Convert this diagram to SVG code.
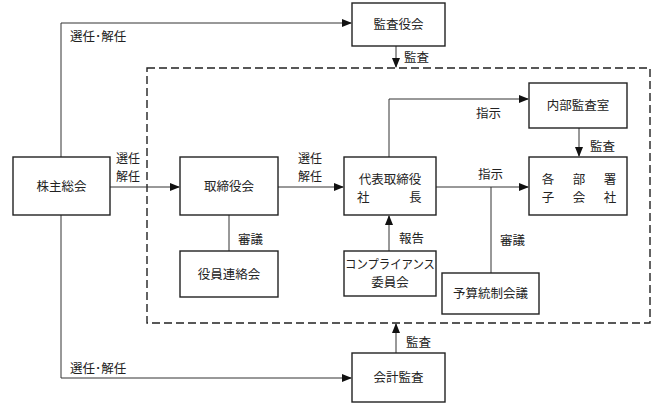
<svg xmlns="http://www.w3.org/2000/svg" width="660" height="410" viewBox="0 0 660 410">
<defs>
<marker id="ah" markerWidth="10" markerHeight="8" refX="9" refY="4" orient="auto" markerUnits="userSpaceOnUse">
<path d="M0,0 L10,4 L0,8 Z" fill="#111"/>
</marker>
<style>
.box{fill:#fff;stroke:#222;stroke-width:1.4}
.ln{fill:none;stroke:#333;stroke-width:1}
.dash{fill:none;stroke:#222;stroke-width:1.4;stroke-dasharray:8 4}
text{font-family:"Noto Sans CJK JP","Noto Sans CJK SC",sans-serif;font-size:12.5px;fill:#222}
.c{text-anchor:middle}
.s{font-size:12px}
</style>
</defs>
<rect width="660" height="410" fill="#fff"/>
<rect class="dash" x="147" y="68" width="503" height="255"/>
<g id="connectors">
<path class="ln" d="M61,157 V23 H351" marker-end="url(#ah)"/>
<path class="ln" d="M61,215 V378 H351" marker-end="url(#ah)"/>
<path class="ln" d="M396,46 V67" marker-end="url(#ah)"/>
<path class="ln" d="M396,353 V324" marker-end="url(#ah)"/>
<path class="ln" d="M110,187 H179" marker-end="url(#ah)"/>
<path class="ln" d="M278,187 H343" marker-end="url(#ah)"/>
<path class="ln" d="M229,215 V251"/>
<path class="ln" d="M389,157 V99 H528" marker-end="url(#ah)"/>
<path class="ln" d="M579,128 V156" marker-end="url(#ah)"/>
<path class="ln" d="M436,187 H528" marker-end="url(#ah)"/>
<path class="ln" d="M491,187 V273"/>
<path class="ln" d="M389,251 V216" marker-end="url(#ah)"/>
<text x="70" y="41">選任･解任</text>
<text x="70" y="373">選任･解任</text>
<text x="404" y="62">監査</text>
<text x="406" y="347">監査</text>
<text class="s" x="116" y="163">選任</text>
<text class="s" x="116" y="181">解任</text>
<text class="s" x="298" y="163">選任</text>
<text class="s" x="298" y="181">解任</text>
<text x="238" y="244">審議</text>
<text x="476" y="118">指示</text>
<text x="590" y="151">監査</text>
<text x="478" y="179">指示</text>
<text x="500" y="245">審議</text>
<text x="399" y="243">報告</text>
</g>
<g id="kansayakukai"><rect class="box" x="352" y="3" width="93" height="43"/><text class="c" x="398.5" y="29">監査役会</text></g>
<g id="kabunushi"><rect class="box" x="13" y="157" width="97" height="58"/><text class="c" x="61.5" y="191">株主総会</text></g>
<g id="torishimariyakukai"><rect class="box" x="180" y="157" width="98" height="58"/><text class="c" x="229" y="191">取締役会</text></g>
<g id="yakuin"><rect class="box" x="180" y="251" width="98" height="46"/><text class="c" x="229" y="279">役員連絡会</text></g>
<g id="daihyo"><rect class="box" x="344" y="157" width="92" height="58"/><text class="c" x="390" y="184">代表取締役</text><text x="357" y="202">社</text><text x="409" y="202">長</text></g>
<g id="naibu"><rect class="box" x="529" y="83" width="98" height="45"/><text class="c" x="578" y="110">内部監査室</text></g>
<g id="kakubusho"><rect class="box" x="529" y="157" width="98" height="58"/><text class="c" x="548" y="184">各</text><text class="c" x="579" y="184">部</text><text class="c" x="610" y="184">署</text><text class="c" x="548" y="202">子</text><text class="c" x="579" y="202">会</text><text class="c" x="610" y="202">社</text></g>
<g id="compliance"><rect class="box" x="344" y="251" width="92" height="45"/><text x="345" y="269" textLength="90" lengthAdjust="spacingAndGlyphs">コンプライアンス</text><text class="c" x="390" y="287">委員会</text></g>
<g id="yosan"><rect class="box" x="442" y="273" width="97" height="41"/><text class="c" x="490.5" y="298">予算統制会議</text></g>
<g id="kaikei"><rect class="box" x="352" y="353" width="93" height="49"/><text class="c" x="398.5" y="382">会計監査</text></g>
</svg>
